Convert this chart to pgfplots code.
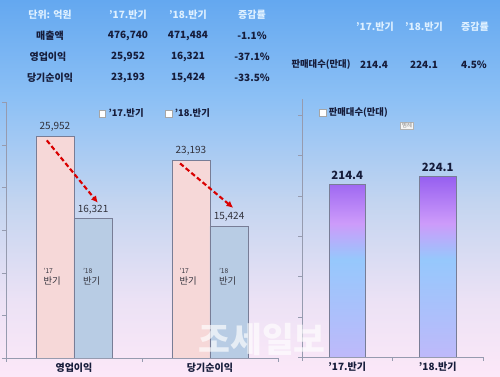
\documentclass[border=0pt]{standalone}
\usepackage{fontspec}
\setmainfont{Noto Sans CJK KR}
\usepackage{pgfplots}
\pgfplotsset{compat=1.18}
\usetikzlibrary{arrows.meta}
\definecolor{hdr}{RGB}{222,240,255}
\definecolor{txt}{RGB}{22,28,58}
\definecolor{axgray}{RGB}{150,155,175}
\definecolor{barA}{RGB}{246,216,216}
\definecolor{barB}{RGB}{184,204,228}
\definecolor{barline}{RGB}{120,125,150}
\definecolor{valgray}{RGB}{50,50,60}
\pgfdeclareverticalshading{bgshade}{100bp}{color(0bp)=(rgb,255:red,252;green,232;blue,248); color(25bp)=(rgb,255:red,252;green,232;blue,248); color(35bp)=(rgb,255:red,236;green,226;blue,245); color(48bp)=(rgb,255:red,196;green,213;blue,240); color(62bp)=(rgb,255:red,140;green,192;blue,245); color(75bp)=(rgb,255:red,100;green,168;blue,240); color(100bp)=(rgb,255:red,100;green,168;blue,240)}
\pgfdeclareverticalshading{barshade}{100bp}{color(0bp)=(rgb,255:red,190;green,185;blue,250); color(25bp)=(rgb,255:red,190;green,185;blue,250); color(52bp)=(rgb,255:red,150;green,200;blue,252); color(62bp)=(rgb,255:red,205;green,155;blue,250); color(75bp)=(rgb,255:red,150;green,95;blue,240); color(100bp)=(rgb,255:red,150;green,95;blue,240)}
\newcommand\T{\fontsize{7.5}{9}\selectfont\bfseries}
\newcommand\inlab[1]{{\fontsize{5}{5}\selectfont #1}\\반기}
\begin{document}
\begin{tikzpicture}
\useasboundingbox (0,0) rectangle (375pt,-282.75pt);
\shade[shading=bgshade] (0,0) rectangle (375pt,-282.75pt);
\begin{scope}[x=0.75pt,y=-0.75pt]
% left table
\node[text=hdr,font=\T] at (50,15) {단위: 억원};
\node[text=hdr,font=\T] at (128,15) {’17.반기};
\node[text=hdr,font=\T] at (188,15) {’18.반기};
\node[text=hdr,font=\T] at (252,15) {증감률};
\node[text=txt,font=\T] at (50,36) {매출액};
\node[text=txt,font=\T] at (128,36) {476,740};
\node[text=txt,font=\T] at (188,36) {471,484};
\node[text=txt,font=\T] at (252,36) {-1.1\%};
\node[text=txt,font=\T] at (48,57) {영업이익};
\node[text=txt,font=\T] at (128,57) {25,952};
\node[text=txt,font=\T] at (188,57) {16,321};
\node[text=txt,font=\T] at (252,57) {-37.1\%};
\node[text=txt,font=\T] at (50,78) {당기순이익};
\node[text=txt,font=\T] at (128,78) {23,193};
\node[text=txt,font=\T] at (188,78) {15,424};
\node[text=txt,font=\T] at (252,78) {-33.5\%};
% right table
\node[text=hdr,font=\T] at (375,27) {’17.반기};
\node[text=hdr,font=\T] at (424,27) {’18.반기};
\node[text=hdr,font=\T] at (475,27) {증감률};
\node[text=txt,font=\fontsize{7}{8}\selectfont\bfseries] at (321,65) {판매대수(만대)};
\node[text=txt,font=\T] at (374,65) {214.4};
\node[text=txt,font=\T] at (424,65) {224.1};
\node[text=txt,font=\T] at (474,65) {4.5\%};
\end{scope}

\begin{axis}[at={(4.5pt,-268.5pt)}, anchor=south west, scale only axis,
  width=204pt, height=192pt,
  xmin=-0.5, xmax=1.5, ymin=0, ymax=30000,
  axis x line=bottom, axis y line=left,
  axis line style={draw=axgray,-},
  scaled y ticks=false,
  ytick={0,5000,...,30000}, yticklabels={},
  xtick={-0.5,0.5,1.5}, xticklabels={},
  extra x ticks={0,1}, extra x tick labels={영업이익,당기순이익},
  extra x tick style={major tick length=0pt, tick label style={font=\bfseries\fontsize{7.5}{9}\selectfont, text=txt}},
  tick style={draw=axgray}, major tick length=3pt, tick align=outside,
  ybar, bar width=0.28,
  nodes near coords,
  every node near coord/.append style={font=\fontsize{7.5}{9}\selectfont, text=valgray},
  legend style={at={(0.55,0.953)}, anchor=center, draw=none, fill=none, legend columns=2,
    font=\bfseries\fontsize{7}{8}\selectfont, text=txt,
    /tikz/every even column/.append style={column sep=14pt}},
  legend image code/.code={\draw[fill=white,draw=gray!70] (0pt,-2.5pt) rectangle (5pt,2.5pt);},
  /pgf/number format/.cd, 1000 sep={,}, assume math mode=true
]
\addplot[fill=barA, draw=barline, bar shift=-0.14] coordinates {(0,25952) (1,23193)};
\addplot[fill=barB, draw=barline, bar shift=0.14] coordinates {(0,16321) (1,15424)};
\legend{’17.반기,’18.반기}
\node[align=left, text=valgray, font=\fontsize{7}{8}\selectfont, inner sep=0pt] at (axis cs:-0.16,9500) {\inlab{’17}};
\node[align=left, text=valgray, font=\fontsize{7}{8}\selectfont, inner sep=0pt] at (axis cs:0.13,9500) {\inlab{’18}};
\node[align=left, text=valgray, font=\fontsize{7}{8}\selectfont, inner sep=0pt] at (axis cs:0.84,9500) {\inlab{’17}};
\node[align=left, text=valgray, font=\fontsize{7}{8}\selectfont, inner sep=0pt] at (axis cs:1.13,9500) {\inlab{’18}};
\draw[red!85!black, line width=1.6pt, dash pattern=on 3.5pt off 2pt, -{Latex[length=5pt,width=5pt]}] (axis cs:-0.2,25500) -- (axis cs:0.175,18200);
\draw[red!85!black, line width=1.6pt, dash pattern=on 3.5pt off 2pt, -{Latex[length=5pt,width=5pt]}] (axis cs:0.78,22800) -- (axis cs:1.17,17600);
\end{axis}

\begin{axis}[at={(226.5pt,-267.75pt)}, anchor=south west, scale only axis,
  width=135.75pt, height=193.5pt,
  xmin=-0.5, xmax=1.5, ymin=0, ymax=320,
  axis x line=bottom, axis y line=left,
  axis line style={draw=axgray,-},
  ytick={0,50,...,300}, yticklabels={},
  xtick={-0.5,0.5,1.5}, xticklabels={},
  extra x ticks={0,1}, extra x tick labels={’17.반기,’18.반기},
  extra x tick style={major tick length=0pt, tick label style={font=\bfseries\fontsize{7.5}{9}\selectfont, text=txt}},
  tick style={draw=axgray}, major tick length=3pt, tick align=outside,
  ybar, bar width=0.4,
  nodes near coords,
  every node near coord/.append style={font=\bfseries\fontsize{8.5}{10}\selectfont, text=txt},
  legend style={at={(0.07,0.946)}, anchor=west, draw=none, fill=none,
    font=\bfseries\fontsize{7}{8}\selectfont, text=txt},
  legend image code/.code={\draw[fill=white,draw=gray!70] (0pt,-2.5pt) rectangle (5pt,2.5pt);},
  /pgf/number format/.cd, fixed, precision=1, fixed zerofill, assume math mode=true
]
\addplot[shading=barshade, draw=barline, bar shift=0, forget plot] coordinates {(0,214.4) (1,224.1)};
\addlegendimage{draw=gray!70, fill=white}
\legend{판매대수(만대)}
\end{axis}

\begin{scope}[x=0.75pt,y=-0.75pt]
\node[draw=gray!60, fill=white!92!gray, font=\fontsize{4}{4}\selectfont, text=gray, inner sep=1pt] at (407,126) {범례};
\node[text=white, opacity=0.65, font=\fontsize{26}{26}\selectfont\bfseries] at (262,340) {조세일보};
\end{scope}
\end{tikzpicture}
\end{document}
